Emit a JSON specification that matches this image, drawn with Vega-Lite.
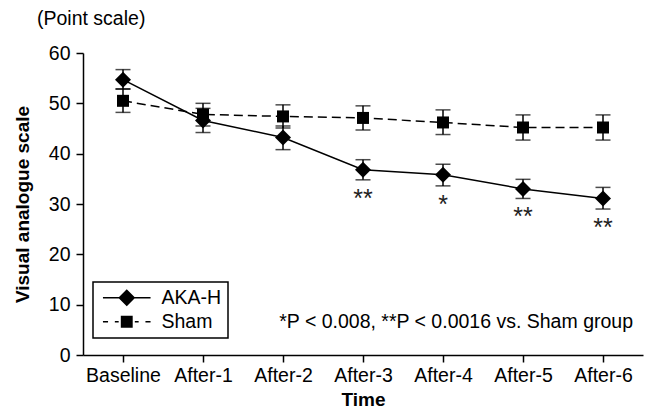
{
  "$schema": "https://vega.github.io/schema/vega-lite/v6.json",
  "autosize": {"type": "none"},
  "padding": {"left": 83, "top": 53, "right": 4, "bottom": 62},
  "width": 560,
  "height": 302,
  "background": "white",
  "title": {
    "text": "(Point scale)",
    "anchor": "start",
    "frame": "group",
    "dx": -46,
    "offset": 14,
    "font": "Liberation Sans, Arial, sans-serif",
    "fontSize": 19.5,
    "fontWeight": "normal",
    "color": "black"
  },
  "config": {
    "view": {"stroke": null},
    "font": "Liberation Sans, Arial, sans-serif",
    "legend": {"strokeWidth": 1.5},
    "axis": {
      "grid": false,
      "domainColor": "black",
      "domainWidth": 1.5,
      "tickColor": "black",
      "tickWidth": 1.5,
      "tickSize": 7,
      "labelColor": "black",
      "labelFont": "Liberation Sans, Arial, sans-serif",
      "labelFontSize": 19.5,
      "titleFont": "Liberation Sans, Arial, sans-serif",
      "titleFontSize": 19,
      "titleFontWeight": "bold",
      "titleColor": "black"
    }
  },
  "datasets": {
    "main": [
      {"group": "AKA-H", "time": "Baseline", "mean": 54.7, "lower": 52.8, "upper": 56.7, "sig": ""},
      {"group": "AKA-H", "time": "After-1", "mean": 46.6, "lower": 44.2, "upper": 49.0, "sig": ""},
      {"group": "AKA-H", "time": "After-2", "mean": 43.2, "lower": 40.8, "upper": 45.5, "sig": ""},
      {"group": "AKA-H", "time": "After-3", "mean": 36.8, "lower": 34.8, "upper": 38.8, "sig": "**"},
      {"group": "AKA-H", "time": "After-4", "mean": 35.8, "lower": 33.6, "upper": 37.9, "sig": "*"},
      {"group": "AKA-H", "time": "After-5", "mean": 33.0, "lower": 31.1, "upper": 34.9, "sig": "**"},
      {"group": "AKA-H", "time": "After-6", "mean": 31.1, "lower": 29.0, "upper": 33.3, "sig": "**"},
      {"group": "Sham", "time": "Baseline", "mean": 50.5, "lower": 48.2, "upper": 52.9, "sig": ""},
      {"group": "Sham", "time": "After-1", "mean": 47.8, "lower": 45.5, "upper": 50.0, "sig": ""},
      {"group": "Sham", "time": "After-2", "mean": 47.4, "lower": 45.1, "upper": 49.7, "sig": ""},
      {"group": "Sham", "time": "After-3", "mean": 47.1, "lower": 44.7, "upper": 49.5, "sig": ""},
      {"group": "Sham", "time": "After-4", "mean": 46.2, "lower": 43.8, "upper": 48.7, "sig": ""},
      {"group": "Sham", "time": "After-5", "mean": 45.2, "lower": 42.7, "upper": 47.7, "sig": ""},
      {"group": "Sham", "time": "After-6", "mean": 45.2, "lower": 42.7, "upper": 47.7, "sig": ""}
    ],
    "note": [
      {"time": "After-6", "y": 6.6, "text": "*P < 0.008, **P < 0.0016 vs. Sham group"}
    ]
  },
  "data": {"name": "main"},
  "encoding": {
    "x": {
      "field": "time",
      "type": "ordinal",
      "sort": ["Baseline", "After-1", "After-2", "After-3", "After-4", "After-5", "After-6"],
      "scale": {"type": "point", "padding": 0.5},
      "axis": {"title": "Time", "labelAngle": 0, "labelPadding": 4, "titlePadding": 6}
    }
  },
  "layer": [
    {
      "mark": {"type": "rule", "color": "black", "strokeWidth": 1.5},
      "encoding": {
        "y": {"field": "lower", "type": "quantitative", "scale": {"domain": [0, 60]},
              "axis": {"title": "Visual analogue scale", "values": [0, 10, 20, 30, 40, 50, 60], "labelPadding": 6, "titlePadding": 16}},
        "y2": {"field": "upper"}
      }
    },
    {
      "mark": {"type": "tick", "color": "black", "thickness": 1.5, "size": 15, "orient": "horizontal"},
      "encoding": {"y": {"field": "lower", "type": "quantitative"}}
    },
    {
      "mark": {"type": "tick", "color": "black", "thickness": 1.5, "size": 15, "orient": "horizontal"},
      "encoding": {"y": {"field": "upper", "type": "quantitative"}}
    },
    {
      "transform": [{"filter": "datum.group === 'AKA-H'"}],
      "mark": {"type": "line", "color": "black", "strokeWidth": 1.5},
      "encoding": {"y": {"field": "mean", "type": "quantitative"}}
    },
    {
      "transform": [{"filter": "datum.group === 'Sham'"}],
      "mark": {"type": "line", "color": "black", "strokeWidth": 1.5, "strokeDash": [9, 5]},
      "encoding": {"y": {"field": "mean", "type": "quantitative"}}
    },
    {
      "transform": [{"filter": "datum.group === 'AKA-H'"}],
      "mark": {"type": "point", "shape": "diamond", "filled": true, "color": "black", "opacity": 1, "size": 256},
      "encoding": {"y": {"field": "mean", "type": "quantitative"}}
    },
    {
      "transform": [{"filter": "datum.group === 'Sham'"}],
      "mark": {"type": "point", "shape": "square", "filled": true, "color": "black", "opacity": 1, "size": 144},
      "encoding": {"y": {"field": "mean", "type": "quantitative"}}
    },
    {
      "mark": {"type": "point", "filled": true, "color": "black", "opacity": 1, "size": 0},
      "encoding": {
        "y": {"field": "mean", "type": "quantitative"},
        "shape": {
          "field": "group", "type": "nominal",
          "scale": {
            "domain": ["AKA-H", "Sham"],
            "range": [
              "M-2.8,-0.09H2.8V0.09H-2.8ZM0,-1L1,0L0,1L-1,0Z",
              "M-2.8,-0.09H-2.2V0.09H-2.8ZM-1.4,-0.09H-0.95V0.09H-1.4ZM-0.7,-0.7H0.7V0.7H-0.7ZM0.95,-0.09H1.4V0.09H0.95ZM2.2,-0.09H2.8V0.09H2.2Z"
            ]
          },
          "legend": {
            "title": null,
            "orient": "none",
            "legendX": 10,
            "legendY": 229,
            "padding": 6,
            "strokeColor": "black",
            "symbolSize": 289,
            "symbolOffset": 18,
            "symbolFillColor": "black",
            "symbolOpacity": 1,
            "labelOffset": 25,
            "labelFontSize": 19.5,
            "labelFont": "Liberation Sans, Arial, sans-serif",
            "labelColor": "black",
            "rowPadding": 1
          }
        }
      }
    },
    {
      "transform": [{"filter": "datum.sig !== ''"}],
      "mark": {"type": "text", "baseline": "alphabetic", "dy": 27, "fontSize": 25, "color": "#222", "font": "Liberation Sans, Arial, sans-serif"},
      "encoding": {
        "y": {"field": "lower", "type": "quantitative"},
        "text": {"field": "sig"}
      }
    },
    {
      "data": {"name": "note"},
      "mark": {"type": "text", "align": "right", "baseline": "middle", "dx": 30, "fontSize": 19.5, "color": "black", "font": "Liberation Sans, Arial, sans-serif"},
      "encoding": {
        "y": {"field": "y", "type": "quantitative"},
        "text": {"field": "text"}
      }
    }
  ]
}
